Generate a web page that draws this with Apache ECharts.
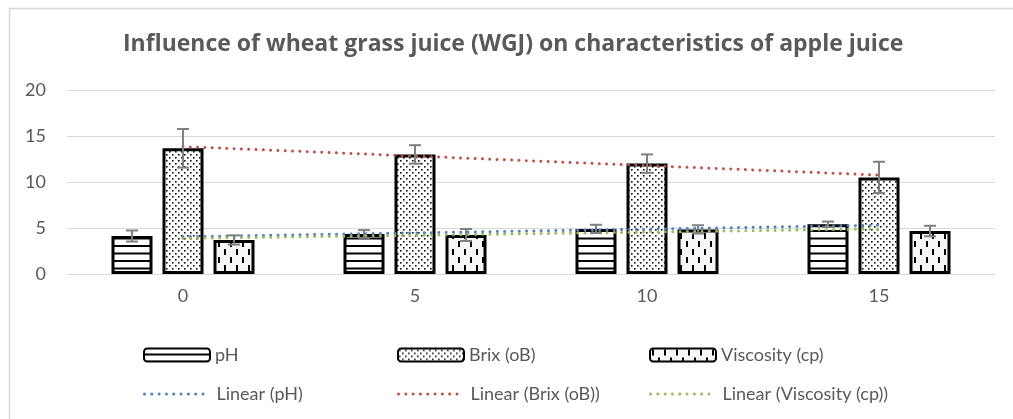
<!DOCTYPE html>
<html>
<head>
<meta charset="utf-8">
<script src="https://cdn.jsdelivr.net/npm/echarts@6/dist/echarts.min.js"></script>
<style>
html,body{margin:0;padding:0;background:#fff;}
#chart{width:1013px;height:419px;}
</style>
</head>
<body>
<div id="chart"></div>
<script>
// ---- data ----
const categories = ['0', '5', '10', '15'];
const phValues = [4.13, 4.35, 4.9, 5.4];
const brixValues = [13.66, 13.0, 12.0, 10.5];
const viscValues = [3.7, 4.24, 4.85, 4.67];
const phErr = [0.6, 0.42, 0.45, 0.3];
const brixErr = [2.1, 1.0, 1.0, 1.7];
const viscErr = [0.5, 0.65, 0.45, 0.57];
// trendline end values (at first and last category)
const trendPH = [4.05, '-', '-', 5.3];
const trendBrix = [13.85, '-', '-', 10.75];
const trendVisc = [3.87, '-', '-', 4.89];
const yTicks = [0, 5, 10, 15, 20];

// ---- patterns ----
function makeCanvas(w, h, draw) {
  const c = document.createElement('canvas');
  c.width = w; c.height = h;
  const ctx = c.getContext('2d');
  draw(ctx, w, h);
  return c;
}
const hLines = makeCanvas(8, 15, (ctx, w, h) => {
  ctx.fillStyle = '#fff'; ctx.fillRect(0, 0, w, h);
  ctx.fillStyle = '#000';
  ctx.fillRect(0, 5, w, 2);
  ctx.fillRect(0, 12.5, w, 2);
});
const dots = makeCanvas(6, 6, (ctx, w, h) => {
  ctx.fillStyle = '#fff'; ctx.fillRect(0, 0, w, h);
  ctx.fillStyle = '#111';
  ctx.fillRect(1, 1, 1.6, 1.6);
  ctx.fillRect(4, 4, 1.6, 1.6);
});
const vDash = makeCanvas(12, 16, (ctx, w, h) => {
  ctx.fillStyle = '#f6f6f6'; ctx.fillRect(0, 0, w, h);
  ctx.fillStyle = '#000';
  ctx.fillRect(2, 1, 2, 6);
  ctx.fillRect(8, 9, 2, 6);
});

const BAR_W = 41, GAP = 10;
const txt = '#595959';
const FONT = 'Lato';
const DOT = [0.01, 7.3];

function errSeries(name, vals, errs, idx) {
  return {
    type: 'custom',
    name: name + ' err',
    z: 5,
    silent: true,
    data: vals.map((v, i) => [i, v, errs[i]]),
    renderItem: function (params, api) {
      const off = (idx - 1) * (BAR_W + GAP);
      const v = api.value(1), e = api.value(2);
      const top = api.coord([api.value(0), v + e]);
      const bot = api.coord([api.value(0), v - e]);
      const x = top[0] + off;
      const cap = 6;
      const style = { stroke: '#808080', lineWidth: 2 };
      return {
        type: 'group',
        children: [
          { type: 'line', shape: { x1: x, y1: top[1], x2: x, y2: bot[1] }, style },
          { type: 'line', shape: { x1: x - cap, y1: top[1], x2: x + cap, y2: top[1] }, style },
          { type: 'line', shape: { x1: x - cap, y1: bot[1], x2: x + cap, y2: bot[1] }, style }
        ]
      };
    }
  };
}

function barSeries(name, vals, pattern) {
  return {
    type: 'bar',
    name: name,
    data: vals,
    barWidth: BAR_W,
    barGap: (GAP / BAR_W * 100) + '%',
    itemStyle: {
      color: { image: pattern, repeat: 'repeat' },
      borderColor: '#000',
      borderWidth: 3
    }
  };
}

function trendSeries(name, vals, color) {
  return {
    type: 'line',
    name: name,
    data: vals,
    connectNulls: true,
    symbol: 'none',
    z: 4,
    lineStyle: { color: color, width: 3, type: DOT, cap: 'round' },
    itemStyle: { color: color }
  };
}

function legend(name, left, top, w, h, isLine) {
  const l = {
    data: [name], left: left, top: top, itemWidth: w, itemHeight: h,
    textStyle: { color: txt, fontSize: 18, fontFamily: FONT, padding: isLine ? [0, 0, 0, 5] : 0 },
    itemGap: 0, padding: 0, selectedMode: false
  };
  if (isLine) {
    l.itemStyle = { opacity: 0 };
    l.lineStyle = { width: 3, type: DOT, cap: 'round' };
  }
  return l;
}

const chart = echarts.init(document.getElementById('chart'));
chart.setOption({
  animation: false,
  backgroundColor: '#fff',
  graphic: [{
    type: 'rect', left: 7, top: 6, silent: true,
    shape: { x: 0, y: 0, width: 1012, height: 420 },
    style: { fill: 'none', stroke: '#d9d9d9', lineWidth: 1.5 }
  }],
  title: {
    text: 'Influence of wheat grass juice (WGJ) on characteristics of apple juice',
    left: 118, top: 28,
    textStyle: { color: txt, fontSize: 23, fontWeight: 'bold', fontFamily: 'Open Sans' }
  },
  legend: [
    legend('pH', 143, 346, 66, 13, false),
    legend('Brix (oB)', 397, 346, 66, 13, false),
    legend('Viscosity (cp)', 649, 346, 66, 13, false),
    legend('Linear (pH)', 143, 385, 62, 13, true),
    legend('Linear (Brix (oB))', 397, 385, 62, 13, true),
    legend('Linear (Viscosity (cp))', 649, 385, 62, 13, true)
  ],
  grid: { left: 67, right: 18, top: 90, bottom: 145 },
  xAxis: {
    type: 'category',
    data: categories,
    axisLine: { lineStyle: { color: '#d9d9d9', width: 1 } },
    axisTick: { show: false },
    axisLabel: { color: txt, fontSize: 18, fontFamily: FONT, margin: 13 }
  },
  yAxis: {
    type: 'value',
    min: yTicks[0], max: yTicks[yTicks.length - 1], interval: 5,
    axisLine: { show: false },
    axisTick: { show: false },
    splitLine: { lineStyle: { color: '#d9d9d9', width: 1 } },
    axisLabel: { color: txt, fontSize: 18, fontFamily: FONT, margin: 21 }
  },
  series: [
    barSeries('pH', phValues, hLines),
    barSeries('Brix (oB)', brixValues, dots),
    barSeries('Viscosity (cp)', viscValues, vDash),
    trendSeries('Linear (pH)', trendPH, '#4F81BD'),
    trendSeries('Linear (Brix (oB))', trendBrix, '#C0504D'),
    trendSeries('Linear (Viscosity (cp))', trendVisc, '#9BBB59'),
    errSeries('pH', phValues, phErr, 0),
    errSeries('Brix (oB)', brixValues, brixErr, 1),
    errSeries('Viscosity (cp)', viscValues, viscErr, 2)
  ]
});
</script>
</body>
</html>
